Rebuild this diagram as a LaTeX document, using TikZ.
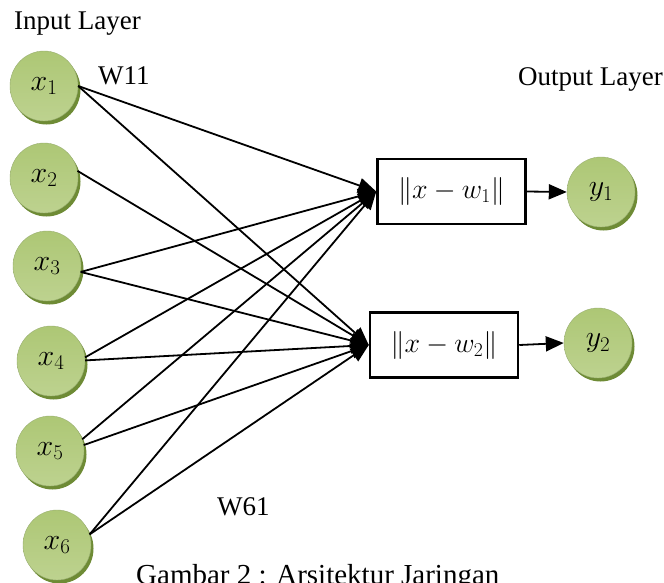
\RequirePackage{fix-cm}
\documentclass[tikz,border=0pt]{standalone}
\usepackage{fontspec}
\setmainfont{Liberation Serif}
\usetikzlibrary{shapes.geometric,arrows.meta,shadows}
\definecolor{olivemid}{HTML}{97B852}
\definecolor{olivetop}{HTML}{ADC775}
\definecolor{olivebot}{HTML}{BDD28F}
\definecolor{olivedark}{HTML}{6E8B35}
\begin{document}
\begin{tikzpicture}[x=1pt,y=-1pt,
  neuron/.style={ellipse, minimum width=68pt, minimum height=70pt, inner sep=0pt,
    top color=olivetop, middle color=olivemid, bottom color=olivebot,
    draw=olivedark!70, line width=0.4pt,
    drop shadow={shadow xshift=2.5pt, shadow yshift=-3.5pt, fill=olivedark, opacity=1},
    font=\fontsize{30}{32}\selectfont},
  distbox/.style={draw, line width=2.5pt, minimum width=148pt, minimum height=65pt, inner sep=0pt,
    fill=white, font=\fontsize{28}{30}\selectfont},
  lbl/.style={inner sep=0pt, font=\fontsize{27}{30}\selectfont},
  capt/.style={inner sep=0pt, font=\fontsize{29}{32}\selectfont},
  conn/.style={line width=1.8pt, -{Triangle[length=18pt,width=15pt]}}
]
\useasboundingbox (0,0) rectangle (664,582);

\node[neuron] (x1) at (44,86) {$x_1$};
\node[neuron] (x2) at (44,178) {$x_2$};
\node[neuron] (x3) at (47,266) {$x_3$};
\node[neuron] (x4) at (51,361) {$x_4$};
\node[neuron] (x5) at (50,451) {$x_5$};
\node[neuron] (x6) at (57,545) {$x_6$};

\node[neuron] (y1) at (601,192) {$y_1$};
\node[neuron] (y2) at (598,343) {$y_2$};

\node[distbox] (b1) at (451.5,191.5) {$\| x - w_1 \|$};
\node[distbox] (b2) at (444,345) {$\| x - w_2 \|$};

\draw[conn] (x1.east) -- (b1.west);
\draw[conn] (x1.east) -- (b2.west);
\draw[conn] (x2.12) -- (b2.west);
\draw[conn] (x3.-10) -- (b1.west);
\draw[conn] (x3.-10) -- (b2.west);
\draw[conn] (x4.6) -- (b1.west);
\draw[conn] (x4.1) -- (b2.west);
\draw[conn] (x5.20) -- (b1.west);
\draw[conn] (x5.10) -- (b2.west);
\draw[conn] (x6.18) -- (b1.west);
\draw[conn] (x6.18) -- (b2.west);

\draw[conn] (b1.east) -- (y1.west);
\draw[conn] (b2.east) -- (y2.west);

\node[lbl, anchor=base west] (inl) at (14,29) {Input Layer};
\node[lbl, anchor=base west] (w11) at (98,84) {W11};
\node[lbl, anchor=base west] (outl) at (518,85) {Output Layer};
\node[lbl, anchor=base west] (w61) at (217,515) {W61};
\node[capt, anchor=base west] (cap) at (136,584) {Gambar 2 : Arsitektur Jaringan};
\end{tikzpicture}
\end{document}
